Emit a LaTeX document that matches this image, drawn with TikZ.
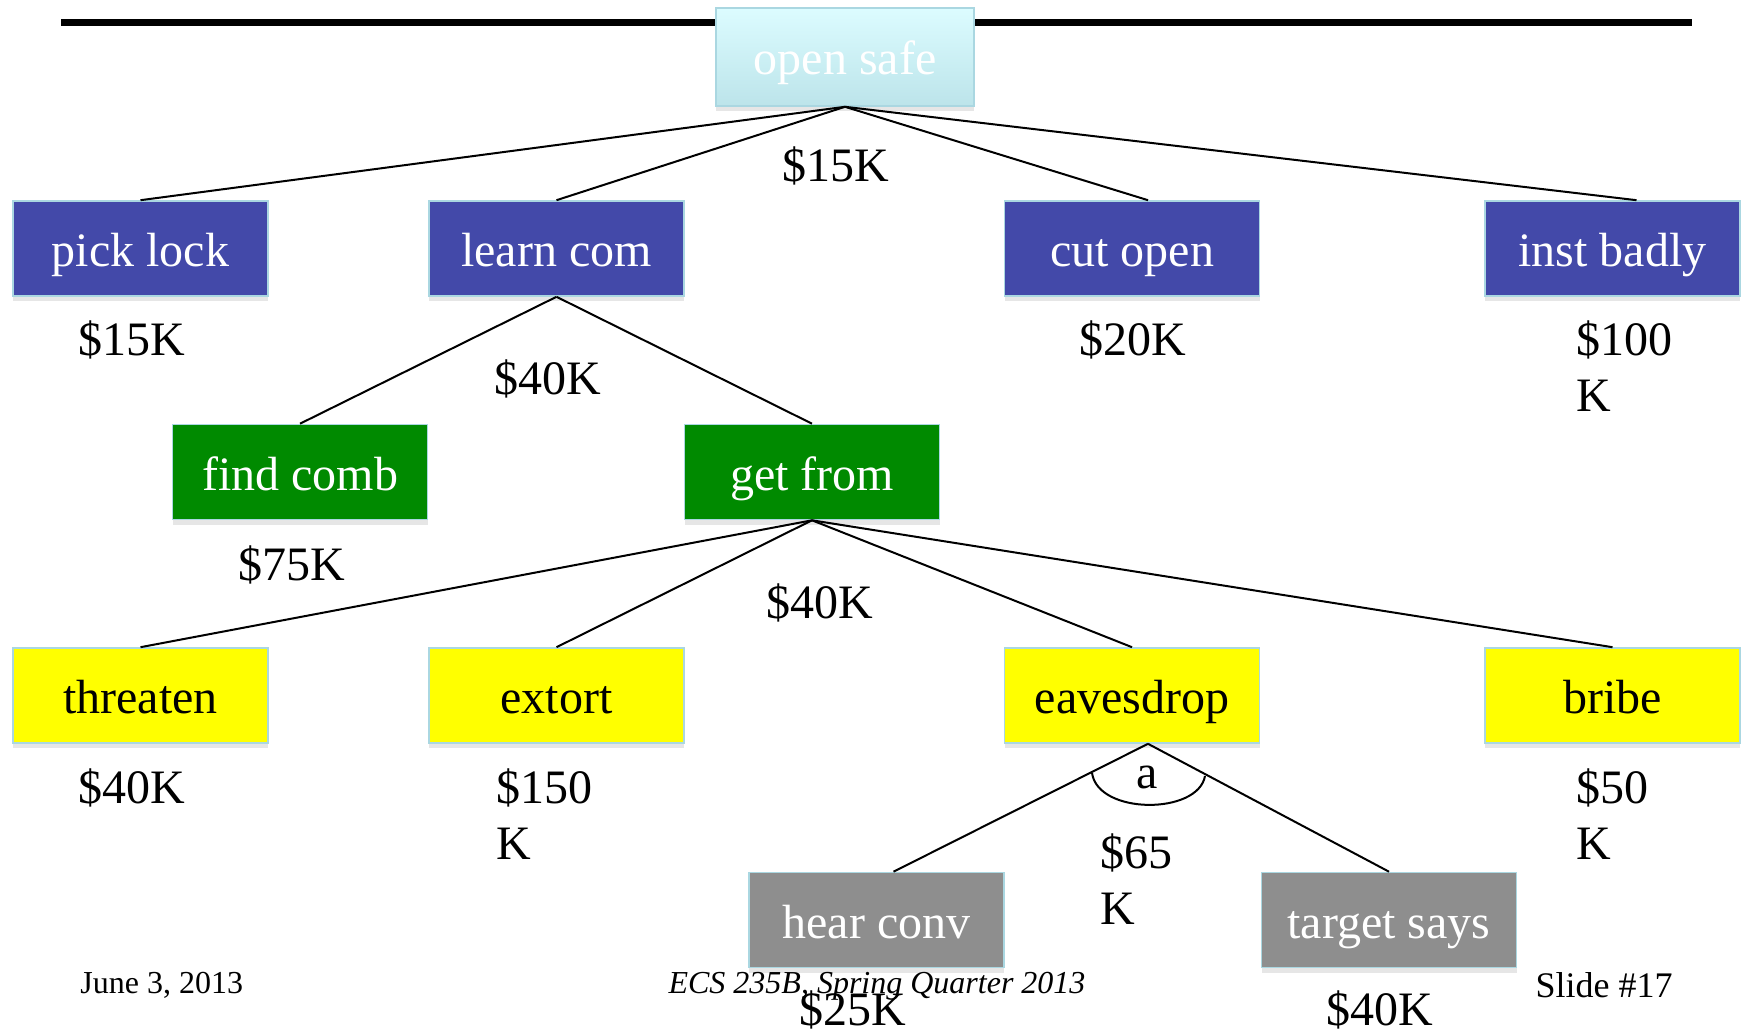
\documentclass[tikz,border=0pt]{standalone}
\usepackage{fontspec}
\setmainfont{Liberation Serif}
\usetikzlibrary{shadows}
\definecolor{boxblue}{RGB}{67,73,169}
\definecolor{boxgreen}{RGB}{0,138,0}
\definecolor{boxyellow}{RGB}{255,255,0}
\definecolor{boxgray}{RGB}{142,142,142}
\definecolor{boxedge}{RGB}{170,215,225}
\definecolor{cyantop}{RGB}{220,252,255}
\definecolor{cyanbot}{RGB}{188,228,234}
\begin{document}
\begin{tikzpicture}[x=0.5pt,y=-0.5pt,
  treebox/.style={draw=boxedge, line width=0.8pt, minimum width=127.5pt, minimum height=47.5pt,
    inner sep=0pt, text height=21pt, text depth=3pt, font=\fontsize{24}{28}\selectfont,
    drop shadow={shadow xshift=0pt, shadow yshift=-2.5pt, opacity=0.2}},
  bluebox/.style={treebox, fill=boxblue, text=white},
  greenbox/.style={treebox, fill=boxgreen, text=white},
  yellowbox/.style={treebox, fill=boxyellow, text=black},
  graybox/.style={treebox, fill=boxgray, text=white},
  cost/.style={font=\fontsize{24}{28}\selectfont, inner sep=0pt, align=left},
  link/.style={line width=1pt, black},
  foot/.style={font=\fontsize{16}{19}\selectfont, inner sep=0pt}]
\useasboundingbox (0,0) rectangle (1743,1031);
\clip (0,0) rectangle (1743,1031);
% top rule
\draw[line width=3.5pt] (61,23) -- (1692,23);
% root
\node[treebox, top color=cyantop, bottom color=cyanbot, text=white, minimum width=129pt, minimum height=49pt] (open) at (845,57) {open safe};
% row 1
\node[bluebox] (pick) at (140.5,248.5) {pick lock};
\node[bluebox] (learn) at (556.5,248.5) {learn com};
\node[bluebox] (cut) at (1132,248.5) {cut open};
\node[bluebox] (inst) at (1612.5,248.5) {inst badly};
% row 2
\node[greenbox] (find) at (300,472) {find comb};
\node[greenbox] (get) at (812,472) {get from};
% row 3
\node[yellowbox] (threat) at (140.5,695.5) {threaten};
\node[yellowbox] (extort) at (556.5,695.5) {extort};
\node[yellowbox] (eaves) at (1132,695.5) {eavesdrop};
\node[yellowbox] (bribe) at (1612.5,695.5) {bribe};
% row 4
\node[graybox] (hear) at (876.5,920) {hear conv};
\node[graybox] (target) at (1389,920) {target says};
% connectors
\draw[link] (open.south) -- (pick.north);
\draw[link] (open.south) -- (learn.north);
\draw[link] (open.south) -- ([xshift=8pt]cut.north);
\draw[link] (open.south) -- ([xshift=12pt]inst.north);
\draw[link] (learn.south) -- (find.north);
\draw[link] (learn.south) -- (get.north);
\draw[link] (get.south) -- (threat.north);
\draw[link] (get.south) -- (extort.north);
\draw[link] (get.south) -- (eaves.north);
\draw[link] (get.south) -- (bribe.north);
\draw[link] ([xshift=8pt]eaves.south) -- ([xshift=8.5pt]hear.north);
\draw[link] ([xshift=8pt]eaves.south) -- (target.north);
% AND arc
\draw[link] (1092,773) .. controls (1098,815) and (1198,815) .. (1205,776);
\node[cost, anchor=base] (andlbl) at (1147,788) {a};
% costs
\node[cost, anchor=base] (c0) at (836,182) {\$15K};
\node[cost, anchor=base] (c1) at (132,356) {\$15K};
\node[cost, anchor=base] (c2) at (548,395) {\$40K};
\node[cost, anchor=base] (c3) at (1133,356) {\$20K};
\node[cost, anchor=base west] (c4) at (1576,412) {\$100\\K};
\node[cost, anchor=base] (c5) at (292,580) {\$75K};
\node[cost, anchor=base] (c6) at (820,618) {\$40K};
\node[cost, anchor=base] (c7) at (132,803) {\$40K};
\node[cost, anchor=base west] (c8) at (496,859) {\$150\\K};
\node[cost, anchor=base west] (c9) at (1576,859) {\$50\\K};
\node[cost, anchor=base west] (c10) at (1100,924) {\$65\\K};
\node[cost, anchor=base] (c11) at (853,1025) {\$25K};
\node[cost, anchor=base] (c12) at (1380,1025) {\$40K};
% footer
\node[foot, anchor=base west] (date) at (80,993) {June 3, 2013};
\node[foot, anchor=base] (course) at (877,993) {\itshape ECS 235B, Spring Quarter 2013};
\node[foot, anchor=base east, font=\fontsize{18}{21}\selectfont] (slide) at (1673,997) {Slide \#17};
\end{tikzpicture}
\end{document}
